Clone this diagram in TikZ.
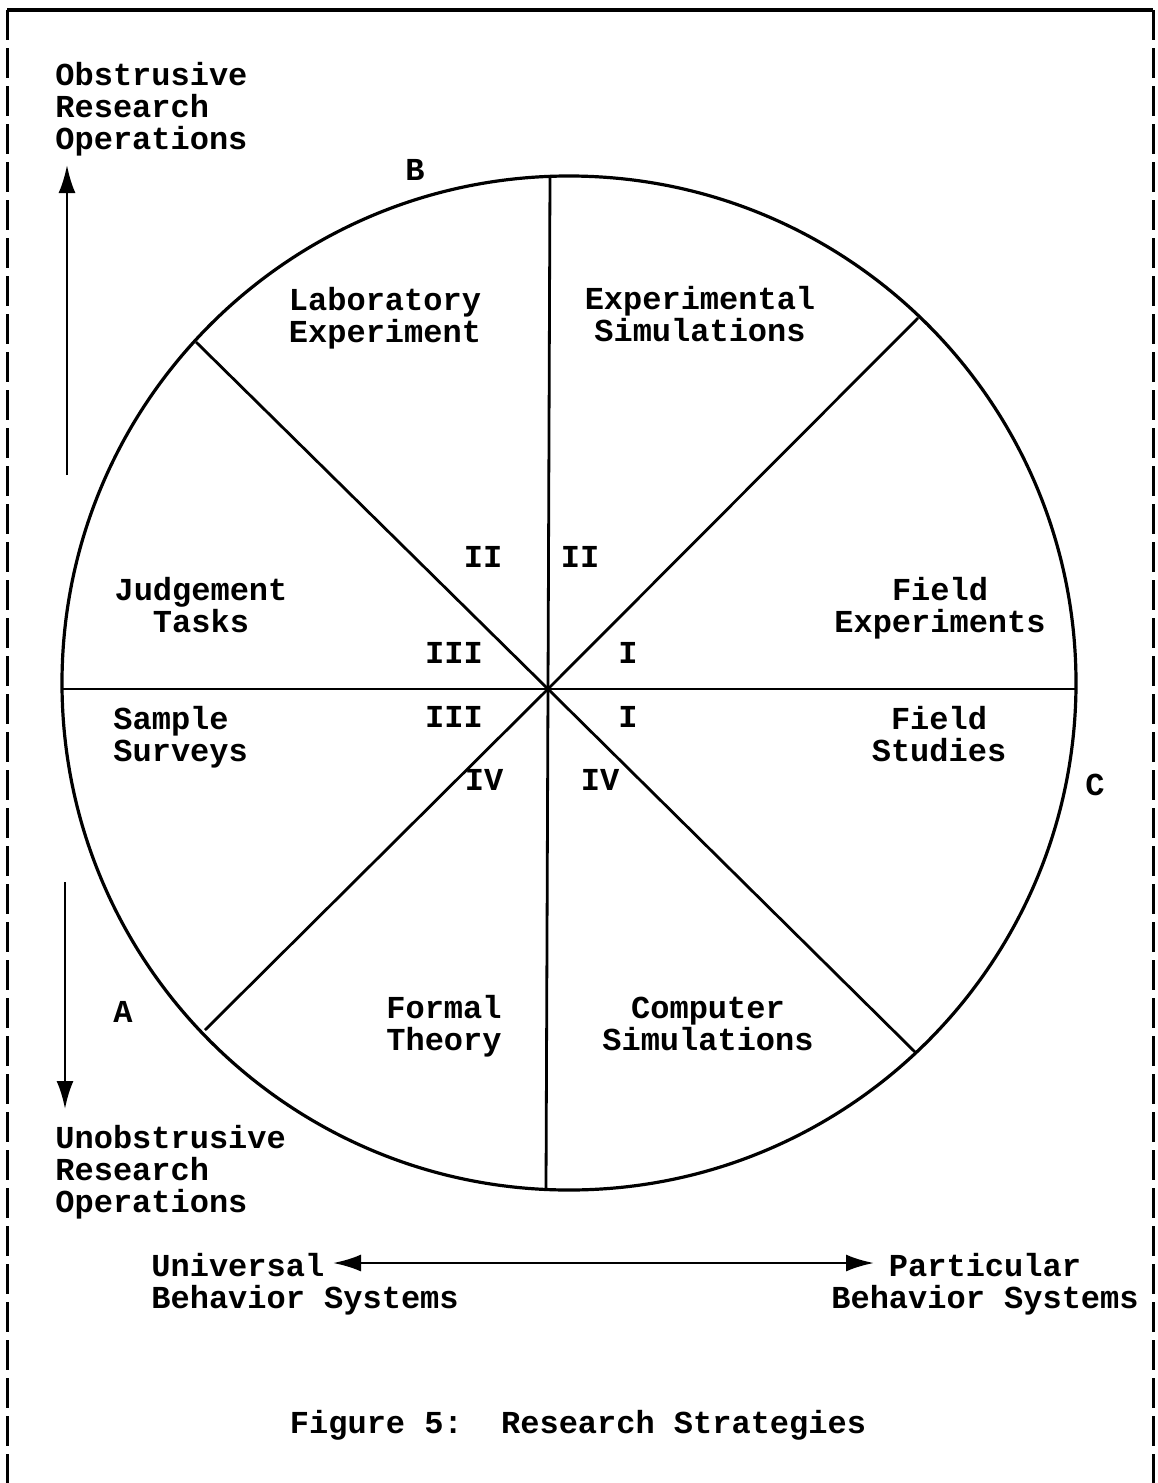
\documentclass[tikz,border=0pt]{standalone}
\usepackage{fontspec}
\setmainfont{Liberation Mono}
\usetikzlibrary{arrows.meta}
\begin{document}
\begin{tikzpicture}[x=0.5pt,y=-0.5pt,
  lbl/.style={font=\fontsize{16}{16}\selectfont\bfseries\frenchspacing, inner sep=0pt, align=center},
  lbll/.style={lbl, align=left, anchor=west},
  spoke/.style={line width=1.4pt},
  ring/.style={line width=1.6pt},
  axis/.style={line width=1.4pt, -{Latex[length=14pt,width=8.5pt]}},
  axis2/.style={line width=1.4pt, {Latex[length=14pt,width=8.5pt]}-{Latex[length=14pt,width=8.5pt]}},
  frametop/.style={line width=1.8pt},
  frameside/.style={line width=1.5pt, dash pattern=on 15pt off 4pt}]
\useasboundingbox (0,0) rectangle (1157,1483);
\fill[white] (0,0) rectangle (1157,1483);

% frame
\coordinate (FTL) at (7,10);
\coordinate (FTR) at (1153,10);
\coordinate (FBL) at (7,1483);
\coordinate (FBR) at (1153,1483);
\draw[frametop] (FTL) -- (FTR);
\draw[frameside] (FTL) -- (FBL);
\draw[frameside] (FTR) -- (FBR);

% circle and spokes
\coordinate (C0) at (569,683);
\draw[ring] (C0) circle [radius=507];
\coordinate (H) at (548,689);
\coordinate (PR) at (1076,689);
\coordinate (PUR) at (918,318);
\coordinate (PT) at (550,175);
\coordinate (PUL) at (196,342);
\coordinate (PL) at (62,689);
\coordinate (PLL) at (205,1030);
\coordinate (PB) at (546,1189);
\coordinate (PLR) at (915,1052);
\foreach \p in {PR,PUR,PT,PUL,PL,PLL,PB,PLR}
  \draw[spoke] (H) -- (\p);

% sector labels
\node[lbl] (lab) at (385,318) {Laboratory\\Experiment};
\node[lbl] (expsim) at (700,314.5) {Experimental\\Simulations};
\node[lbl] (judge) at (201,605.5) {Judgement\\Tasks};
\node[lbl] (fexp) at (940,608.5) {Field\\Experiments};
\node[lbll] (surv) at (113,737.5) {Sample\\Surveys};
\node[lbl] (fstud) at (939,734.5) {Field\\Studies};
\node[lbl] (formal) at (444,1026.5) {Formal\\Theory};
\node[lbl] (compsim) at (708,1023.5) {Computer\\Simulations};

% roman numerals
\node[lbl] (r2a) at (483,557) {II};
\node[lbl] (r2b) at (580,557) {II};
\node[lbl] (r3a) at (454,653) {III};
\node[lbl] (r1a) at (628,653) {I};
\node[lbl] (r3b) at (454,717) {III};
\node[lbl] (r1b) at (628,717) {I};
\node[lbl] (r4a) at (484,780) {IV};
\node[lbl] (r4b) at (600,780) {IV};

% corner letters
\node[lbl] (lB) at (415,170) {B};
\node[lbl] (lA) at (123,1012) {A};
\node[lbl] (lC) at (1095,785) {C};

% vertical axis
\node[lbll] (obs) at (55,109) {Obstrusive\\Research\\Operations};
\node[lbll] (unobs) at (55,1172.5) {Unobstrusive\\Research\\Operations};
\coordinate (UA0) at (67,475);
\coordinate (UA1) at (67,165);
\coordinate (DA0) at (65,882);
\coordinate (DA1) at (65,1109);
\draw[axis] (UA0) -- (UA1);
\draw[axis] (DA0) -- (DA1);

% horizontal axis
\node[lbll] (univ) at (151,1284.5) {Universal\\Behavior Systems};
\node[lbl] (part) at (985,1284.5) {Particular\\Behavior Systems};
\coordinate (HA0) at (333,1263);
\coordinate (HA1) at (874,1263);
\draw[axis2] (HA0) -- (HA1);

% caption
\node[lbl] (cap) at (578,1425) {Figure 5:~~Research Strategies};
\end{tikzpicture}
\end{document}
